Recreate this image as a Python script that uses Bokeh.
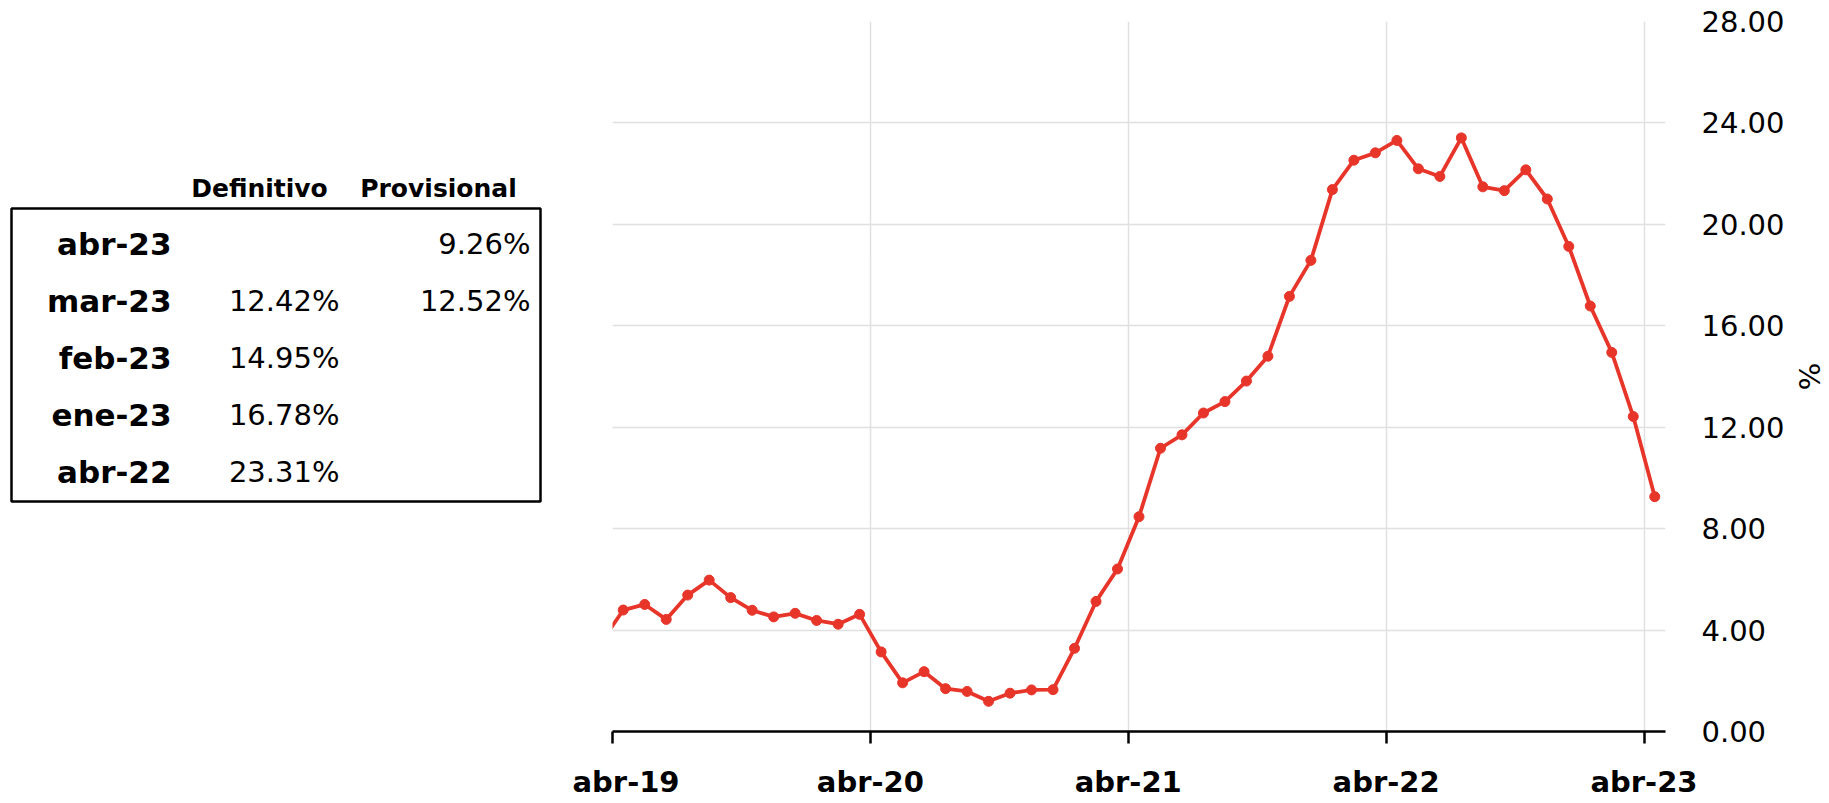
from bokeh.plotting import figure
from bokeh.layouts import row
from bokeh.models import Range1d, FixedTicker, NumeralTickFormatter, ColumnDataSource
from bokeh.core.properties import value
from bokeh.embed import file_html
from bokeh.resources import INLINE

# ---------------- data ----------------
months = ["mar-19",
          "abr-19", "may-19", "jun-19", "jul-19", "ago-19", "sep-19", "oct-19", "nov-19", "dic-19", "ene-20", "feb-20", "mar-20",
          "abr-20", "may-20", "jun-20", "jul-20", "ago-20", "sep-20", "oct-20", "nov-20", "dic-20", "ene-21", "feb-21", "mar-21",
          "abr-21", "may-21", "jun-21", "jul-21", "ago-21", "sep-21", "oct-21", "nov-21", "dic-21", "ene-22", "feb-22", "mar-22",
          "abr-22", "may-22", "jun-22", "jul-22", "ago-22", "sep-22", "oct-22", "nov-22", "dic-22", "ene-23", "feb-23", "mar-23",
          "abr-23"]
rates = [3.55,
         4.79, 5.01, 4.42, 5.38, 5.97, 5.28, 4.78, 4.52, 4.66, 4.38, 4.23, 4.62,
         3.14, 1.92, 2.36, 1.69, 1.58, 1.19, 1.51, 1.64, 1.65, 3.28, 5.13, 6.41,
         8.47, 11.17, 11.70, 12.56, 13.01, 13.82, 14.80, 17.16, 18.58, 21.37, 22.53, 22.82,
         23.31, 22.19, 21.89, 23.41, 21.48, 21.33, 22.15, 21.00, 19.13, 16.78, 14.95, 12.42,
         9.26]
tick_labels = ["abr-19", "abr-20", "abr-21", "abr-22", "abr-23"]
y_ticks = [0, 4, 8, 12, 16, 20, 24, 28]

table_rows = ["abr-23", "mar-23", "feb-23", "ene-23", "abr-22"]
table_definitivo = ["", "12.42%", "14.95%", "16.78%", "23.31%"]
table_provisional = ["9.26%", "12.52%", "", "", ""]
table_headers = ["Definitivo", "Provisional"]

RED = "#e8352a"
FONT = "DejaVu Sans"
TOP, BOTTOM = 21, 72   # shared borders, so both frames span page y 21..731

# ---------------- table figure ----------------
TW, TH = 572, 803
t = figure(width=TW, height=TH, output_backend="svg", toolbar_location=None,
           x_range=Range1d(0, TW), y_range=Range1d(TH - BOTTOM, TOP),
           min_border_left=0, min_border_right=0,
           min_border_top=TOP, min_border_bottom=BOTTOM, outline_line_color=None)
t.axis.visible = False
t.grid.visible = False
t.background_fill_color = None
t.border_fill_color = None

row_y0, row_dy = 243, 57.2
ys = [row_y0 + i * row_dy for i in range(len(table_rows))]

t.quad(left=[11], right=[540], top=[208], bottom=[501], fill_color=None,
       line_color="black", line_width=2.5)

t.text(x=[259, 438], y=[188, 188], text=table_headers, text_align="center",
       text_baseline="middle", text_font=value(FONT), text_font_style="bold",
       text_font_size="25px", text_color="black")
t.text(x=[171] * len(ys), y=ys, text=table_rows, text_align="right",
       text_baseline="middle", text_font=value(FONT), text_font_style="bold",
       text_font_size="31px", text_color="black")
t.text(x=[339] * len(ys), y=ys, text=table_definitivo, text_align="right",
       text_baseline="middle", text_font=value(FONT),
       text_font_size="29px", text_color="black")
t.text(x=[530] * len(ys), y=ys, text=table_provisional, text_align="right",
       text_baseline="middle", text_font=value(FONT),
       text_font_size="29px", text_color="black")

# ---------------- chart figure ----------------
x_pos = [i - 0.5 for i in range(len(rates))]   # mid-month positions (abr-19 -> 0.5)
src = ColumnDataSource(dict(x=x_pos, y=rates, month=months))

p = figure(width=1829 - TW, height=TH, output_backend="svg", toolbar_location=None,
           x_range=Range1d(0, 49), y_range=Range1d(0, 28),
           y_axis_location="right",
           min_border_left=612 - TW, min_border_top=TOP, min_border_bottom=BOTTOM,
           min_border_right=164, outline_line_color=None)
p.background_fill_color = "white"

p.line("x", "y", source=src, line_color=RED, line_width=3.8)
p.scatter("x", "y", source=src, size=10, fill_color=RED, line_color=RED)

# x axis
xa = p.xaxis[0]
xa.ticker = FixedTicker(ticks=[0, 12, 24, 36, 48], minor_ticks=[])
xa.major_label_overrides = {0: tick_labels[0], 12: tick_labels[1], 24: tick_labels[2],
                            36: tick_labels[3], 48: tick_labels[4]}
xa.axis_line_color = "black"
xa.axis_line_width = 2.5
xa.major_tick_line_color = "black"
xa.major_tick_line_width = 2.5
xa.major_tick_out = 12
xa.major_tick_in = 0
xa.minor_tick_line_color = None
xa.major_label_standoff = 21
xa.major_label_text_font = FONT
xa.major_label_text_font_style = "bold"
xa.major_label_text_font_size = "29px"
xa.major_label_text_color = "black"

# y axis
ya = p.yaxis[0]
ya.ticker = FixedTicker(ticks=y_ticks, minor_ticks=[])
ya.formatter = NumeralTickFormatter(format="0.00")
ya.axis_line_color = None
ya.major_tick_line_color = None
ya.minor_tick_line_color = None
ya.major_label_standoff = 30
ya.major_label_text_font = FONT
ya.major_label_text_font_size = "29px"
ya.major_label_text_color = "black"
ya.axis_label = "%"
ya.axis_label_text_font = FONT
ya.axis_label_text_font_style = "normal"
ya.axis_label_text_font_size = "29px"
ya.axis_label_standoff = 4
ya.axis_label_text_color = "black"

p.xgrid.ticker = FixedTicker(ticks=[0, 12, 24, 36, 48])
p.ygrid.ticker = FixedTicker(ticks=y_ticks)
p.xgrid.grid_line_color = "#e0e0e0"
p.ygrid.grid_line_color = "#e0e0e0"
p.xgrid.grid_line_width = 1.5
p.ygrid.grid_line_width = 1.5

layout = row(t, p)
open("out.html", "w").write(file_html(layout, INLINE))
